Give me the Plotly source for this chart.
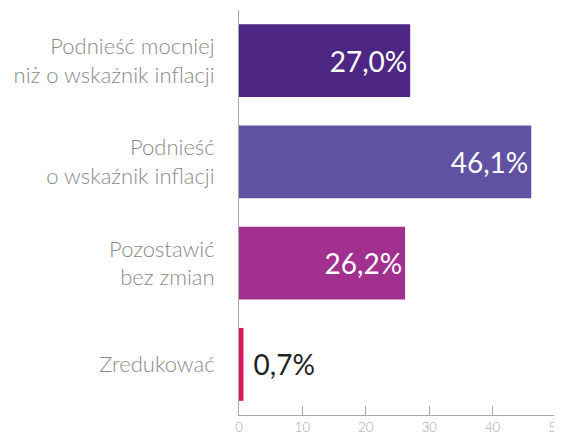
import plotly.graph_objects as go

categories = [
    "Podnieść mocniej<br>niż o wskaźnik inflacji",
    "Podnieść<br>o wskaźnik inflacji",
    "Pozostawić<br>bez zmian",
    "Zredukować",
]
shares = [27.0, 46.1, 26.2, 0.7]
bar_colors = ["#4E2683", "#6151A2", "#A2308F", "#DE1557"]
tick_values = [0, 10, 20, 30, 40, 50]

labels = [f"{v:.1f}%".replace(".", ",") for v in shares]
positions = ["inside" if v > 5 else "outside" for v in shares]
label_colors = ["white" if v > 5 else "#222222" for v in shares]
# small gap between the thin bar and its outside label
labels = [t if p == "inside" else " " + t for t, p in zip(labels, positions)]

# the page body has an 8px margin, so the figure is shrunk by that much
fig = go.Figure()
fig.add_trace(
    go.Bar(
        x=shares,
        y=categories,
        orientation="h",
        marker=dict(color=bar_colors, line=dict(width=0)),
        text=labels,
        textposition=positions,
        insidetextanchor="end",
        textfont=dict(size=28, color=label_colors, family="Lato, sans-serif"),
        cliponaxis=False,
        hoverinfo="skip",
    )
)

fig.update_layout(
    width=554,
    height=425,
    paper_bgcolor="white",
    plot_bgcolor="white",
    font=dict(family="Lato, sans-serif"),
    margin=dict(l=231, r=6, t=2, b=18, autoexpand=False),
    bargap=0.28,
    showlegend=False,
    xaxis=dict(
        range=[0, 50],
        tickvals=tick_values,
        automargin=False,
        ticklabeloverflow="allow",
        showgrid=False,
        zeroline=False,
        showline=True,
        linecolor="#a8a6ad",
        linewidth=1,
        ticks="inside",
        ticklen=9,
        tickcolor="#a8a6ad",
        tickfont=dict(size=13, color="#a0a0a0", weight=300),
    ),
    yaxis=dict(
        autorange="reversed",
        automargin=False,
        showgrid=False,
        zeroline=False,
        showline=True,
        linecolor="#a8a6ad",
        linewidth=1,
        ticks="",
        ticklabelstandoff=19,
        tickfont=dict(size=22, color="#8a8a8a", weight=300),
    ),
)

fig.write_html("out.html")
